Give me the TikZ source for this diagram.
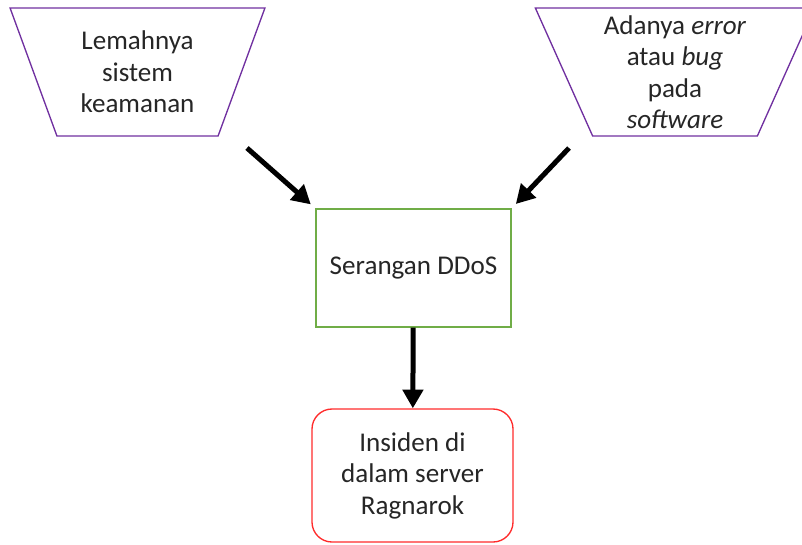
\documentclass[tikz,border=0pt]{standalone}
\usepackage{fontspec}
\setmainfont{Carlito}
\usetikzlibrary{shapes.geometric,arrows.meta}

\definecolor{ungu}{HTML}{7030A0}
\definecolor{hijau}{HTML}{70AD47}
\definecolor{merah}{HTML}{FF2B2B}

\tikzset{
	teks/.style={align=center, inner sep=0pt, text=black!85, font=\fontsize{20.3pt}{23.6pt}\selectfont},
	sebab/.style={teks, draw=ungu, line width=1pt, trapezium, shape border rotate=180,
		trapezium stretches=true, minimum height=96pt},
	kotak/.style={teks, draw=hijau, line width=1pt, rectangle,
		minimum width=146.25pt, minimum height=88.5pt},
	akibat/.style={teks, draw=merah, line width=1pt, rectangle, rounded corners=15pt,
		minimum width=150.75pt, minimum height=99.75pt},
	panah/.style={line width=3.75pt, -{Triangle[length=14pt,width=15pt]}}
}

\begin{document}
\begin{tikzpicture}[x=0.75pt,y=-0.75pt]
	\clip (0,0) rectangle (802,544);
	
	% penyebab
	\node [sebab, minimum width=191.25pt, trapezium angle=68] (lemah) at (137.5,72) {Lemahnya\\sistem\\keamanan};
	\node [sebab, minimum width=210pt, trapezium angle=66.4] (bug) at (675,72) {Adanya \textit{error}\\atau \textit{bug}\\pada\\\textit{software}};
	
	\node [kotak] (ddos) at (413.5,268) {Serangan DDoS};
	\node [akibat] (insiden) at (412.5,475.5) {Insiden di\\dalam server\\Ragnarok};
	
	\coordinate (a1) at (247,148);
	\coordinate (a2) at (569,148);
	
	\draw [panah, shorten >=4.5pt] (a1) -- (ddos.north west);
	\draw [panah, shorten >=4.5pt] (a2) -- (ddos.north east);
	\draw [panah] (ddos) -- (insiden);
\end{tikzpicture}
\end{document}
